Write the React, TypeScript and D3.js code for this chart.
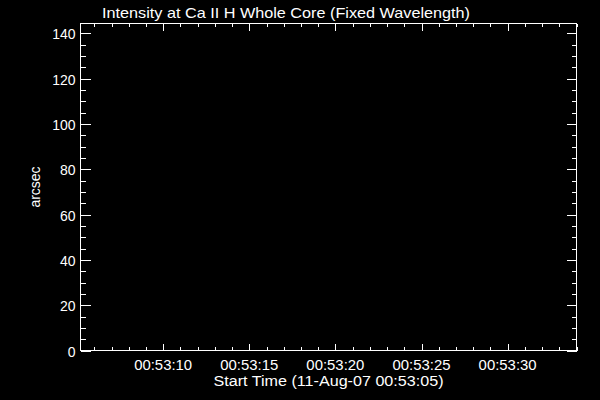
import React from "react";
import * as d3 from "d3";

const title = "Intensity at Ca II H Whole Core (Fixed Wavelength)";
const xTitle = "Start Time (11-Aug-07 00:53:05)";
const yTitle = "arcsec";
const yTicks = [0, 20, 40, 60, 80, 100, 120, 140];
const yDomain = [0, 144.3];
const yMinorStep = 5;
// seconds after 00:53:00 on 11-Aug-07
const xDomainSec = [5.2, 34.0];
const xMajorSec = [10, 15, 20, 25, 30];
const xTickLabels = ["00:53:10", "00:53:15", "00:53:20", "00:53:25", "00:53:30"];
const xMinorStepSec = 1;

const W = 600, H = 400;
const L = 80.5, R = 576.5, T = 23.5, B = 350.5;
const FONT = "'Liberation Sans', Arial, sans-serif";

export default function App() {
  const base = Date.UTC(2007, 7, 11, 0, 53, 0);
  const toDate = (s: number) => new Date(base + s * 1000);
  const x = d3.scaleUtc().domain(xDomainSec.map(toDate)).range([L, R]);
  const y = d3.scaleLinear().domain(yDomain).range([B, T]);

  const yMinor = d3.range(yDomain[0], yDomain[1] + 1e-9, yMinorStep).filter(v => v % 20 !== 0);
  const xMinor = d3.range(Math.ceil(xDomainSec[0]), xDomainSec[1] + 1e-9, xMinorStepSec).filter(s => s % 5 !== 0);

  const yMaj = 10, yMin = 5, xMaj = 7, xMin = 3.5;
  const lines: JSX.Element[] = [];
  yTicks.forEach((v, i) => {
    const yy = Math.round(y(v)) + 0.5;
    lines.push(<line key={"yl" + i} x1={L} x2={L + yMaj} y1={yy} y2={yy} />);
    lines.push(<line key={"yr" + i} x1={R} x2={R - yMaj} y1={yy} y2={yy} />);
  });
  yMinor.forEach((v, i) => {
    const yy = Math.round(y(v)) + 0.5;
    lines.push(<line key={"yml" + i} x1={L} x2={L + yMin} y1={yy} y2={yy} />);
    lines.push(<line key={"ymr" + i} x1={R} x2={R - yMin} y1={yy} y2={yy} />);
  });
  xMajorSec.forEach((s, i) => {
    const xx = Math.round(x(toDate(s))) + 0.5;
    lines.push(<line key={"xb" + i} x1={xx} x2={xx} y1={B} y2={B - xMaj} />);
    lines.push(<line key={"xt" + i} x1={xx} x2={xx} y1={T} y2={T + xMaj} />);
  });
  xMinor.forEach((s, i) => {
    const xx = Math.round(x(toDate(s))) + 0.5;
    lines.push(<line key={"xmb" + i} x1={xx} x2={xx} y1={B} y2={B - xMin} />);
    lines.push(<line key={"xmt" + i} x1={xx} x2={xx} y1={T} y2={T + xMin} />);
  });

  return (
    <svg width={W} height={H} style={{ display: "block", position: "absolute", left: 0, top: 0, background: "#000" }}>
      <rect x={0} y={0} width={W} height={H} fill="#000" />
      <g stroke="#fff" strokeWidth={1} shapeRendering="crispEdges" fill="none">
        <rect x={L} y={T} width={R - L} height={B - T} />
        {lines}
      </g>
      <g fill="#fff" fontFamily={FONT} fontSize={14}>
        <text x={102} y={17.5} fontSize={14.5} textLength={368} lengthAdjust="spacingAndGlyphs">{title}</text>
        {yTicks.map((v, i) => (
          <text key={"ytl" + i} x={75.5} y={y(v) + 6} textAnchor="end">{v}</text>
        ))}
        {xMajorSec.map((s, i) => (
          <text key={"xtl" + i} x={x(toDate(s)) - 29} y={370} textLength={58} lengthAdjust="spacingAndGlyphs">{xTickLabels[i]}</text>
        ))}
        <text x={(L + R) / 2 - 115} y={386} textLength={230} lengthAdjust="spacingAndGlyphs">{xTitle}</text>
        <text transform={`translate(40,${(T + B) / 2}) rotate(-90)`} textAnchor="middle">{yTitle}</text>
      </g>
    </svg>
  );
}
